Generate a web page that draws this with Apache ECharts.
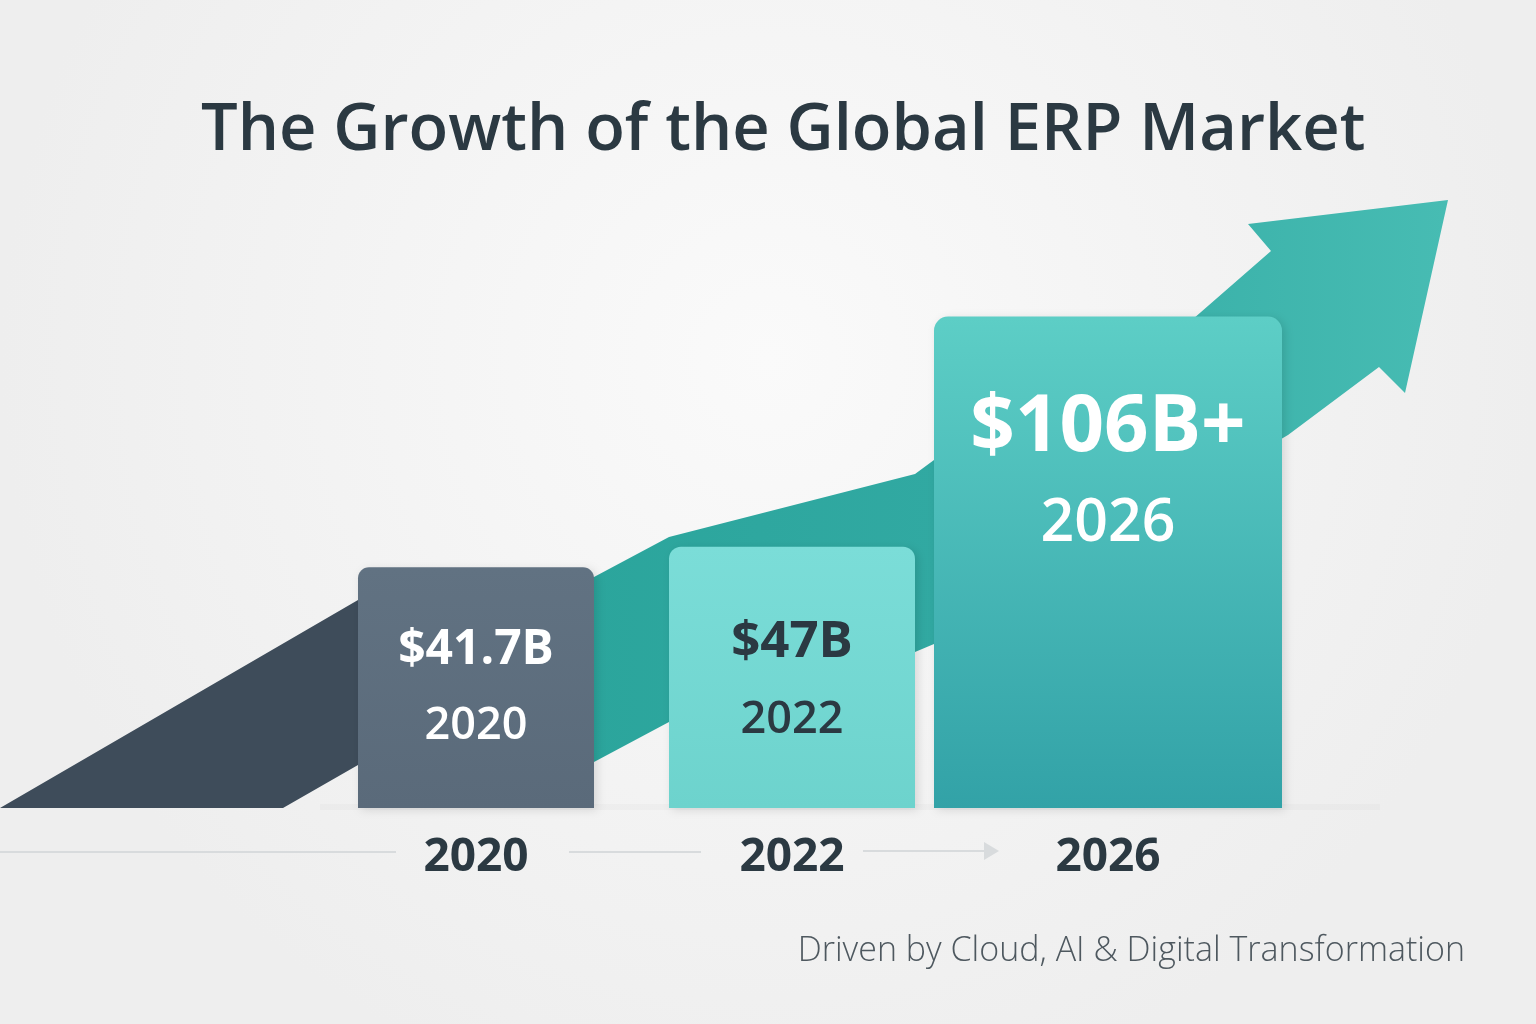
<!DOCTYPE html>
<html>
<head>
<meta charset="utf-8">
<title>The Growth of the Global ERP Market</title>
<script src="https://cdn.jsdelivr.net/npm/echarts@6/dist/echarts.min.js"></script>
<style>
  html, body { margin: 0; padding: 0; background: #f2f2f2; }
  #chart { width: 1536px; height: 1024px; }
</style>
</head>
<body>
<div id="chart"></div>
<script>
// data
var years = ['2020', '2022', '2026'];
var marketSize = [41.7, 47, 106];      // US$ billions
var sizeSuffix = ['', '', '+'];

// per-bar look (widths in px, label offsets from bar top)
var barLook = [
    { width: 236, r: 11, top: '#617282', bottom: '#5a6a7a', text: '#ffffff', valueFont: 'bold 48px "Open Sans"', yearFont: '600 45px "Open Sans"', valueDy: 83, yearDy: 159 },
    { width: 246, r: 12, top: '#7bddd8', bottom: '#6dd3cd', text: '#2b3942', valueFont: 'bold 51px "Open Sans"', yearFont: '600 45px "Open Sans"', valueDy: 96, yearDy: 173 },
    { width: 348, r: 14, top: '#5dcec6', bottom: '#32a2a7', text: '#ffffff', valueFont: 'bold 78px "Open Sans"', yearFont: '600 59px "Open Sans"', valueDy: 112, yearDy: 208 }
];

var yMin = -20;
var chart = echarts.init(document.getElementById('chart'));

var option = {
    backgroundColor: '#f2f2f2',
    animation: false,
    title: {
        text: 'The Growth of the Global ERP Market',
        left: 196,
        top: 94,
        textStyle: {
            fontFamily: '"Open Sans"',
            fontSize: 65,
            fontWeight: 600,
            color: '#2b3942'
        }
    },
    grid: { left: 318, right: 270, top: 223, bottom: 216 },
    xAxis: {
        type: 'category',
        data: years,
        axisLine: { show: false },
        axisTick: { show: false },
        axisLabel: {
            margin: 27,
            fontFamily: '"Open Sans"',
            fontSize: 46,
            fontWeight: 'bold',
            color: '#2b3942'
        }
    },
    yAxis: {
        type: 'value',
        min: yMin,
        max: 130,
        show: false
    },
    graphic: [
        // soft background
        {
            type: 'rect', z: -10, silent: true,
            shape: { x: 0, y: 0, width: 1536, height: 1024 },
            style: {
                fill: new echarts.graphic.RadialGradient(0.5, 0.35, 0.75, [
                    { offset: 0, color: '#fafafa' },
                    { offset: 1, color: '#eeeeee' }
                ])
            }
        },
        // trend arrow behind the bars
        {
            type: 'polygon', z: -5, silent: true,
            shape: {
                points: [
                    [0, 808], [358, 600], [594, 577], [669, 537], [915, 474], [934, 460],
                    [1193, 319], [1271, 251], [1248, 224], [1448, 200], [1405, 393],
                    [1379, 367], [1288, 435], [934, 644], [915, 652], [669, 722],
                    [594, 762], [358, 765], [283, 808]
                ]
            },
            style: {
                fill: {
                    type: 'linear', x: 0, y: 0, x2: 1448, y2: 0, global: true,
                    colorStops: [
                        { offset: 0, color: '#3e4c5a' },
                        { offset: 0.25, color: '#3e4c5a' },
                        { offset: 0.4, color: '#2ba59c' },
                        { offset: 0.65, color: '#31a9a2' },
                        { offset: 1, color: '#47bcb3' }
                    ]
                }
            }
        },
        // ground shadow
        {
            type: 'rect', z: -4, silent: true,
            shape: { x: 320, y: 804, width: 1060, height: 6 },
            style: { fill: 'rgba(0,0,0,0.02)', shadowBlur: 14, shadowColor: 'rgba(0,0,0,0.08)', shadowOffsetY: 4 }
        },
        // timeline between the year labels
        {
            type: 'line', silent: true,
            shape: { x1: 0, y1: 852, x2: 396, y2: 852 },
            style: { stroke: '#d8dbdd', lineWidth: 2 }
        },
        {
            type: 'line', silent: true,
            shape: { x1: 569, y1: 852, x2: 701, y2: 852 },
            style: { stroke: '#d8dbdd', lineWidth: 2 }
        },
        {
            type: 'line', silent: true,
            shape: { x1: 863, y1: 851, x2: 986, y2: 851 },
            style: { stroke: '#d8dbdd', lineWidth: 2 }
        },
        {
            type: 'polygon', silent: true,
            shape: { points: [[984, 842], [999, 851], [984, 860]] },
            style: { fill: '#d8dbdd' }
        },
        {
            type: 'text', silent: true,
            style: {
                text: 'Driven by Cloud, AI & Digital Transformation',
                x: 1465, y: 951,
                align: 'right', verticalAlign: 'middle',
                textAlign: 'right', textVerticalAlign: 'middle',
                font: '300 34px "Open Sans"',
                fill: '#4e585f'
            }
        }
    ],
    series: [
        {
            type: 'custom',
            z: 2,
            data: marketSize.map(function (v, i) { return [i, v]; }),
            renderItem: function (params, api) {
                var i = api.value(0);
                var v = api.value(1);
                var top = api.coord([i, v]);
                var base = api.coord([i, yMin]);
                var look = barLook[i];
                var cx = top[0];
                return {
                    type: 'group',
                    children: [
                        {
                            type: 'rect',
                            shape: { x: cx - look.width / 2, y: top[1], width: look.width, height: base[1] - top[1], r: [look.r, look.r, 0, 0] },
                            style: {
                                fill: new echarts.graphic.LinearGradient(0, 0, 0, 1, [
                                    { offset: 0, color: look.top },
                                    { offset: 1, color: look.bottom }
                                ]),
                                shadowBlur: 10,
                                shadowColor: 'rgba(0,0,0,0.12)',
                                shadowOffsetX: 3,
                                shadowOffsetY: 2
                            }
                        },
                        {
                            type: 'text',
                            style: {
                                text: '$' + marketSize[i] + 'B' + sizeSuffix[i],
                                x: cx, y: top[1] + look.valueDy,
                                align: 'center', verticalAlign: 'middle',
                                textAlign: 'center', textVerticalAlign: 'middle',
                                font: look.valueFont,
                                fill: look.text
                            }
                        },
                        {
                            type: 'text',
                            style: {
                                text: years[i],
                                x: cx, y: top[1] + look.yearDy,
                                align: 'center', verticalAlign: 'middle',
                                textAlign: 'center', textVerticalAlign: 'middle',
                                font: look.yearFont,
                                fill: look.text
                            }
                        }
                    ]
                };
            }
        }
    ]
};

chart.setOption(option);
</script>
</body>
</html>
